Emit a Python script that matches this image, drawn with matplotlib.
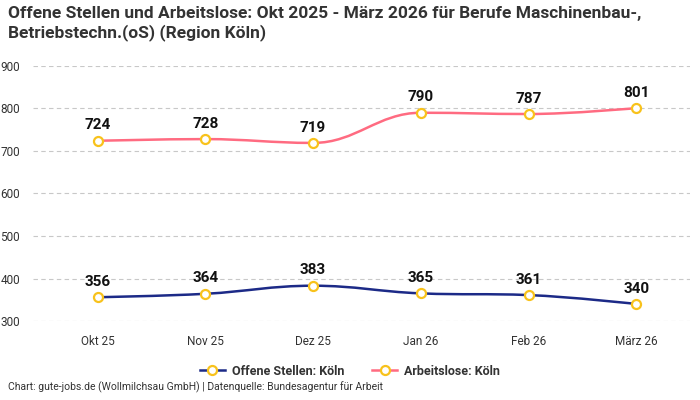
import matplotlib
matplotlib.use("Agg")
import numpy as np
import matplotlib.pyplot as plt
from matplotlib.path import Path
from matplotlib.patches import PathPatch
from matplotlib.lines import Line2D


months = ["Okt 25", "Nov 25", "Dez 25", "Jan 26", "Feb 26", "März 26"]
offene_stellen = [356, 364, 383, 365, 361, 340]
arbeitslose = [724, 728, 719, 790, 787, 801]

TITLE = "Offene Stellen und Arbeitslose: Okt 2025 - März 2026 für Berufe Maschinenbau-,\nBetriebstechn.(oS) (Region Köln)"
FOOTER = "Chart: gute-jobs.de (Wollmilchsau GmbH) | Datenquelle: Bundesagentur für Arbeit"

BLUE = "#1c2a87"
PINK = "#ff6b81"
YELLOW = "#f8c21c"

plt.rcParams["font.family"] = ["Roboto", "DejaVu Sans"]

#######################################################################################################

def spline_path(xs, ys, smoothing=1.5):
    # control points like a highcharts "spline" series
    n = len(xs)
    verts = [(xs[0], ys[0])]
    codes = [Path.MOVETO]
    left = [None] * n
    right = [None] * n
    denom = smoothing + 1
    for i in range(1, n - 1):
        px, py = xs[i], ys[i]
        lx, ly = xs[i - 1], ys[i - 1]
        nx, ny = xs[i + 1], ys[i + 1]
        lcx = (smoothing * px + lx) / denom
        lcy = (smoothing * py + ly) / denom
        rcx = (smoothing * px + nx) / denom
        rcy = (smoothing * py + ny) / denom
        corr = ((rcy - lcy) * (rcx - px)) / (rcx - lcx) + py - rcy
        lcy += corr
        rcy += corr
        if lcy > ly and lcy > py:
            lcy = max(ly, py)
            rcy = 2 * py - lcy
        elif lcy < ly and lcy < py:
            lcy = min(ly, py)
            rcy = 2 * py - lcy
        if rcy > ny and rcy > py:
            rcy = max(ny, py)
            lcy = 2 * py - rcy
        elif rcy < ny and rcy < py:
            rcy = min(ny, py)
            lcy = 2 * py - rcy
        left[i] = (lcx, lcy)
        right[i] = (rcx, rcy)
    for i in range(1, n):
        c1 = right[i - 1] if right[i - 1] is not None else (xs[i - 1], ys[i - 1])
        c2 = left[i] if left[i] is not None else (xs[i], ys[i])
        verts += [c1, c2, (xs[i], ys[i])]
        codes += [Path.CURVE4] * 3
    return Path(verts, codes)


fig = plt.figure(figsize=(7, 4), dpi=100)
ax = fig.add_axes([0.047, 0.1975, 0.939, 0.6375])

x = np.arange(len(months))
for values, color in [(offene_stellen, BLUE), (arbeitslose, PINK)]:
    patch = PathPatch(spline_path(x, values), facecolor="none", edgecolor=color, lw=1.8, zorder=3, capstyle="round")
    ax.add_patch(patch)
    ax.plot(x, values, ls="none", marker="o", ms=6.5, mfc="white", mec=YELLOW, mew=1.6, zorder=4)
    for xi, v in zip(x, values):
        ax.annotate(str(v), (xi, v), xytext=(0, 6), textcoords="offset points", ha="center", va="bottom",
                    fontsize=11, fontweight="bold", color="#111111", zorder=5)

ax.set_xlim(-0.6, 5.5)
ax.set_ylim(300, 900)
ax.set_yticks(range(300, 901, 100))
ax.set_xticks(x)
ax.set_xticklabels(months)
ax.grid(axis="y", color="#c8c8c8", ls=(0, (4, 3)), lw=0.8)
ax.set_axisbelow(True)
for s in ax.spines.values():
    s.set_visible(False)
ax.tick_params(axis="both", length=0, labelsize=8.5, colors="#333333")
ax.tick_params(axis="x", pad=10)
ax.tick_params(axis="y", pad=2)
for lab in ax.get_yticklabels():
    lab.set_horizontalalignment("left")
    lab.set_x(-0.045)

fig.text(0.012, 0.985, TITLE, ha="left", va="top", fontsize=12.5, fontweight="bold", color="#333333", linespacing=1.25)
fig.text(0.012, 0.018, FOOTER, ha="left", va="bottom", fontsize=7.5, color="#333333")

handles = [
    Line2D([], [], color=BLUE, lw=1.8, marker="o", ms=6.5, mfc="white", mec=YELLOW, mew=1.6),
    Line2D([], [], color=PINK, lw=1.8, marker="o", ms=6.5, mfc="white", mec=YELLOW, mew=1.6),
]
leg = fig.legend(handles, ["Offene Stellen: Köln", "Arbeitslose: Köln"], loc="center", bbox_to_anchor=(0.5, 0.072),
                 ncol=2, frameon=False, handlelength=2.0, handletextpad=0.6, columnspacing=2.2,
                 prop={"size": 9, "weight": "bold"})
for t in leg.get_texts():
    t.set_color("#333333")

fig.savefig("out.png", dpi=100)
